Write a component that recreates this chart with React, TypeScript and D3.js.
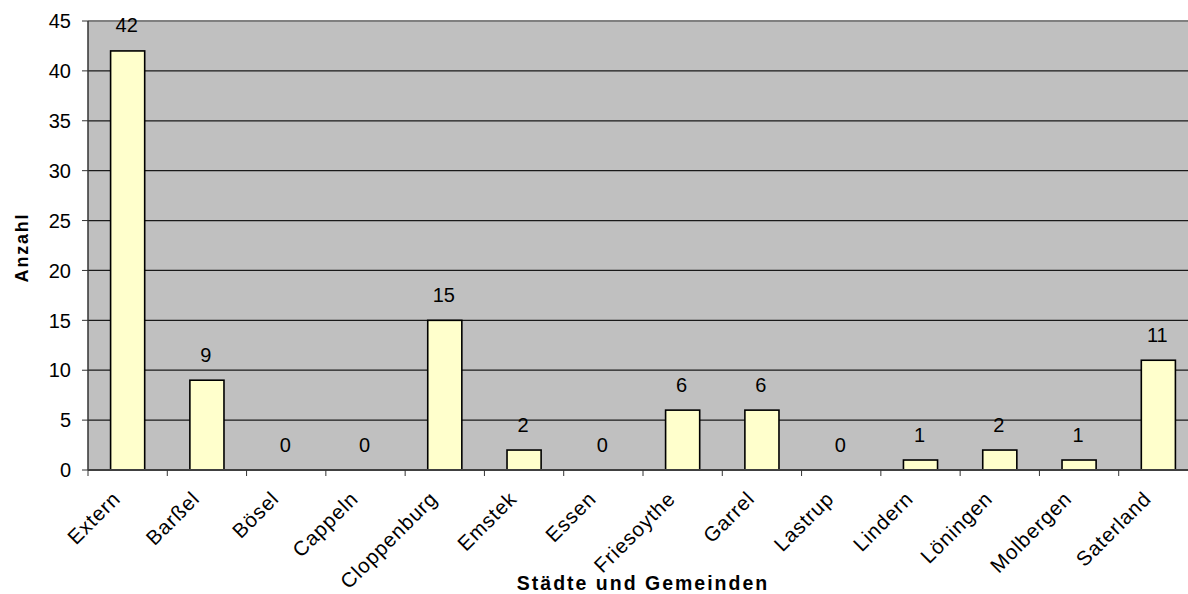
import React from "react";
import * as d3 from "d3";

const categories = [
  "Extern", "Barßel", "Bösel", "Cappeln", "Cloppenburg", "Emstek", "Essen",
  "Friesoythe", "Garrel", "Lastrup", "Lindern", "Löningen", "Molbergen", "Saterland",
];
const values = [42, 9, 0, 0, 15, 2, 0, 6, 6, 0, 1, 2, 1, 11];
const yTicks = [0, 5, 10, 15, 20, 25, 30, 35, 40, 45];
const yTitle = "Anzahl";
const xTitle = "Städte und Gemeinden";

const W = 1188;
const H = 594;
const left = 88;
const right = 1198;
const top = 21;
const bottom = 470;
const font = "'Liberation Sans', Arial, sans-serif";

export default function App() {
  const x = d3.scaleBand<string>().domain(categories).range([left, right]).paddingInner(0).paddingOuter(0);
  const y = d3.scaleLinear().domain([0, 45]).range([bottom, top]);
  const bw = x.bandwidth() * 0.43;
  const tickXs = categories.slice(1).map((c) => x(c)!);

  return (
    <svg width={W} height={H} style={{ position: "absolute", left: 0, top: 0, display: "block" }}>
      <rect x={0} y={0} width={W} height={H} fill="#ffffff" />
      <rect x={left} y={top} width={right - left} height={bottom - top} fill="#c0c0c0" />
      {yTicks.filter((t) => t > 0 && t < 45).map((t) => (
        <line key={t} x1={left} x2={right} y1={y(t)} y2={y(t)} stroke="#1a1a1a" strokeWidth={1.2} />
      ))}
      <line x1={left} x2={right} y1={top} y2={top} stroke="#808080" strokeWidth={2} />
      {categories.map((c, i) => {
        const cx = x(c)! + x.bandwidth() / 2;
        const v = values[i];
        return (
          <g key={c}>
            {v > 0 && (
              <rect x={cx - bw / 2} y={y(v)} width={bw} height={bottom - y(v)} fill="#ffffcc" stroke="#000" strokeWidth={1.6} />
            )}
            <text x={cx - 1} y={y(v) - 18.5} textAnchor="middle" fontFamily={font} fontSize={20} fill="#000">{v}</text>
            <text
              transform={`translate(${cx - 6},${bottom + 30}) rotate(-45)`}
              textAnchor="end"
              fontFamily={font}
              fontSize={20.5}
              letterSpacing={0.9}
              fill="#000"
            >{c}</text>
          </g>
        );
      })}
      <line x1={left} x2={left} y1={top} y2={bottom} stroke="#333" strokeWidth={1.5} />
      <line x1={left} x2={right} y1={bottom} y2={bottom} stroke="#404040" strokeWidth={2} />
      {tickXs.map((tx, i) => (
        <line key={i} x1={tx} x2={tx} y1={bottom} y2={bottom + 6} stroke="#333" strokeWidth={1} />
      ))}
      <line x1={left} x2={left} y1={bottom} y2={bottom + 6} stroke="#333" strokeWidth={1} />
      {yTicks.map((t) => (
        <g key={t}>
          <line x1={left - 6} x2={left} y1={y(t)} y2={y(t)} stroke="#333" strokeWidth={1} />
          <text x={left - 17} y={y(t)} dy="0.36em" textAnchor="end" fontFamily={font} fontSize={20} fill="#000">{t}</text>
        </g>
      ))}
      <text
        transform={`translate(28,${(top + bottom) / 2 + 2}) rotate(-90)`}
        textAnchor="middle"
        fontFamily={font}
        fontSize={18}
        fontWeight="bold"
        letterSpacing={1.8}
        fill="#000"
      >{yTitle}</text>
      <text
        x={643}
        y={590}
        textAnchor="middle"
        fontFamily={font}
        fontSize={19.5}
        fontWeight="bold"
        letterSpacing={2}
        fill="#000"
      >{xTitle}</text>
    </svg>
  );
}
